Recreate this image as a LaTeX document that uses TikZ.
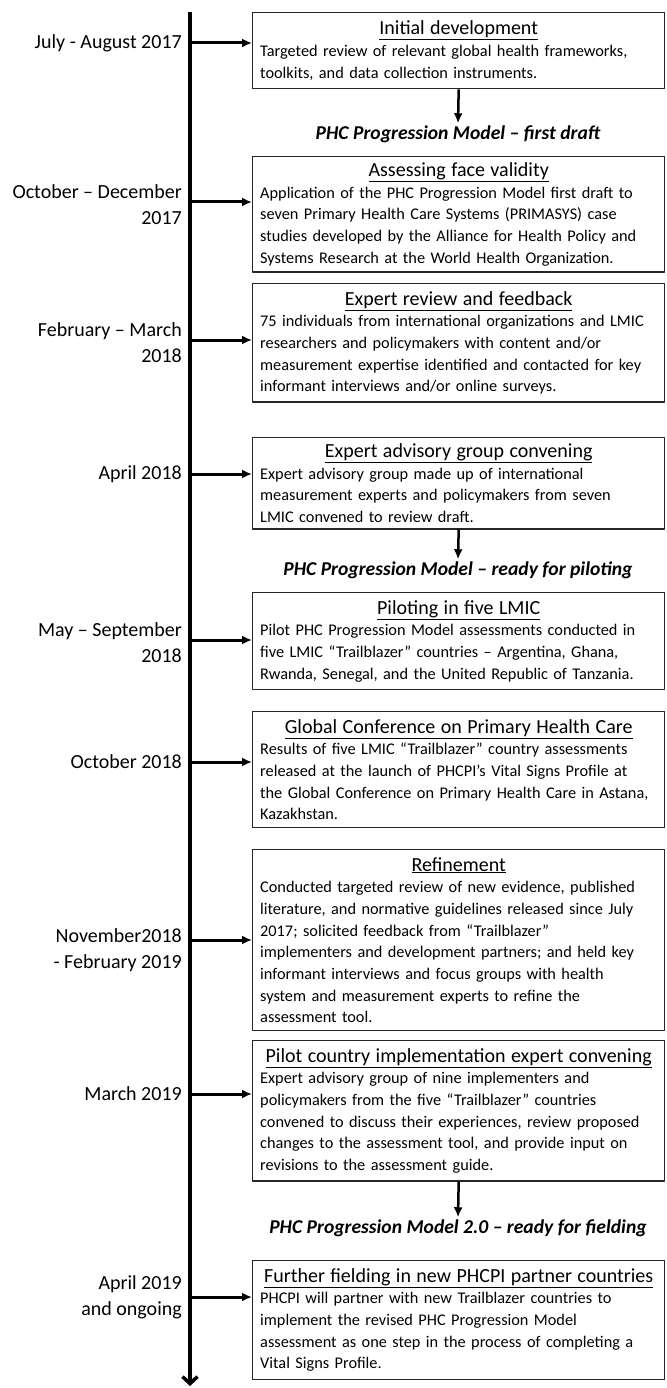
\documentclass[tikz,border=0pt]{standalone}
\usepackage{fontspec}
\setmainfont{Carlito}
\usetikzlibrary{arrows.meta}

% underlined, centred heading inside an event box
\newcommand{\boxtitle}[1]{{\centering\fontsize{20}{24}\selectfont\underline{#1}\par}%
    \raggedright\hyphenpenalty=10000\exhyphenpenalty=10000 }

\begin{document}
\begin{tikzpicture}[x=1pt, y=-1pt, line join=round,
    event/.style={draw=black!85, line width=1.4pt, anchor=north west,
        text width=397pt, inner xsep=7.5pt, inner ysep=7.5pt, align=left,
        font=\fontsize{16.3}{21.7}\selectfont},
    date/.style={anchor=east, align=right, inner sep=0pt,
        font=\fontsize{20}{26}\selectfont},
    milestone/.style={inner sep=2pt, font=\fontsize{19.6}{23}\selectfont\bfseries\itshape},
    link/.style={line width=3pt, -{Latex[length=10pt,width=9pt]}},
    down/.style={line width=2.5pt, -{Latex[length=10pt,width=9pt]}}]

    % Variables for easy adjustment
    \def\tx{190}   % x of the time line
    \def\dx{182}   % right edge of the dates
    \def\bx{252}   % left edge of the boxes
    \def\mx{458}   % centre of the boxes

    \useasboundingbox (0,0) rectangle (666,1388);

    % Time line
    \coordinate (top) at (\tx,12);
    \coordinate (bottom) at (\tx,1386);
    \draw[line width=3.5pt, -{Straight Barb[length=7pt,width=15pt]}] (top) -- (bottom);

    % Initial development
    \node[event, minimum height=76pt] (b1) at (\bx,12) {\boxtitle{Initial development}
        Targeted review of relevant global health frameworks,\\
        toolkits, and data collection instruments.};
    \node[date] (d1) at (\dx,43) {July - August 2017};
    \coordinate (t1) at (\tx,43);
    \draw[link] (t1) -- (t1 -| b1.west);

    \node[milestone] (m1) at (\mx,134) {PHC Progression Model -- first draft};
    \draw[down] (b1.south) -- (m1.north);

    % Assessing face validity
    \node[event, inner ysep=6pt] (b2) at (\bx,156) {\boxtitle{Assessing face validity}
        Application of the PHC Progression Model first draft to\\
        seven Primary Health Care Systems (PRIMASYS) case\\
        studies developed by the Alliance for Health Policy and\\
        Systems Research at the World Health Organization.};
    \node[date] (d2) at (\dx,205) {October -- December\\2017};
    \coordinate (t2) at (\tx,202);
    \draw[link] (t2) -- (t2 -| b2.west);

    % Expert review and feedback
    \node[event] (b3) at (\bx,283) {\boxtitle{Expert review and feedback}
        75 individuals from international organizations and LMIC\\
        researchers and policymakers with content and/or\\
        measurement expertise identified and contacted for key\\
        informant interviews and/or online surveys.};
    \node[date] (d3) at (\dx,343) {February -- March\\2018};
    \coordinate (t3) at (\tx,340);
    \draw[link] (t3) -- (t3 -| b3.west);

    % Expert advisory group convening
    \node[event, inner ysep=6pt] (b4) at (\bx,437) {\boxtitle{Expert advisory group convening}
        Expert advisory group made up of international\\
        measurement experts and policymakers from seven\\
        LMIC convened to review draft.};
    \node[date] (d4) at (\dx,474) {April 2018};
    \coordinate (t4) at (\tx,474);
    \draw[link] (t4) -- (t4 -| b4.west);

    \node[milestone] (m2) at (\mx,570) {PHC Progression Model -- ready for piloting};
    \draw[down] (b4.south) -- (m2.north);

    % Piloting in five LMIC
    \node[event] (b5) at (\bx,592) {\boxtitle{Piloting in five LMIC}
        Pilot PHC Progression Model assessments conducted in\\
        five LMIC “Trailblazer” countries -- Argentina, Ghana,\\
        Rwanda, Senegal, and the United Republic of Tanzania.};
    \node[date] (d5) at (\dx,643) {May -- September\\2018};
    \coordinate (t5) at (\tx,640);
    \draw[link] (t5) -- (t5 -| b5.west);

    % Global Conference on Primary Health Care
    \node[event] (b6) at (\bx,711) {\boxtitle{Global Conference on Primary Health Care}
        Results of five LMIC “Trailblazer” country assessments\\
        released at the launch of PHCPI’s Vital Signs Profile at\\
        the Global Conference on Primary Health Care in Astana,\\
        Kazakhstan.};
    \node[date] (d6) at (\dx,762) {October 2018};
    \coordinate (t6) at (\tx,762);
    \draw[link] (t6) -- (t6 -| b6.west);

    % Refinement
    \node[event] (b7) at (\bx,849) {\boxtitle{Refinement}
        Conducted targeted review of new evidence, published\\
        literature, and normative guidelines released since July\\
        2017; solicited feedback from “Trailblazer”\\
        implementers and development partners; and held key\\
        informant interviews and focus groups with health\\
        system and measurement experts to refine the\\
        assessment tool.};
    \node[date] (d7) at (\dx,950) {November2018\\- February 2019};
    \coordinate (t7) at (\tx,940);
    \draw[link] (t7) -- (t7 -| b7.west);

    % Pilot country implementation expert convening
    \node[event] (b8) at (\bx,1040) {\boxtitle{Pilot country implementation expert convening}
        Expert advisory group of nine implementers and\\
        policymakers from the five “Trailblazer” countries\\
        convened to discuss their experiences, review proposed\\
        changes to the assessment tool, and provide input on\\
        revisions to the assessment guide.};
    \node[date] (d8) at (\dx,1094) {March 2019};
    \coordinate (t8) at (\tx,1094);
    \draw[link] (t8) -- (t8 -| b8.west);

    \node[milestone] (m3) at (\mx,1228) {PHC Progression Model 2.0 -- ready for fielding};
    \draw[down] (b8.south) -- (m3.north);

    % Further fielding
    \node[event] (b9) at (\bx,1260) {\boxtitle{Further fielding in new PHCPI partner countries}
        PHCPI will partner with new Trailblazer countries to\\
        implement the revised PHC Progression Model\\
        assessment as one step in the process of completing a\\
        Vital Signs Profile.};
    \node[date] (d9) at (\dx,1297) {April 2019\\and ongoing};
    \coordinate (t9) at (\tx,1297);
    \draw[link] (t9) -- (t9 -| b9.west);

\end{tikzpicture}
\end{document}
